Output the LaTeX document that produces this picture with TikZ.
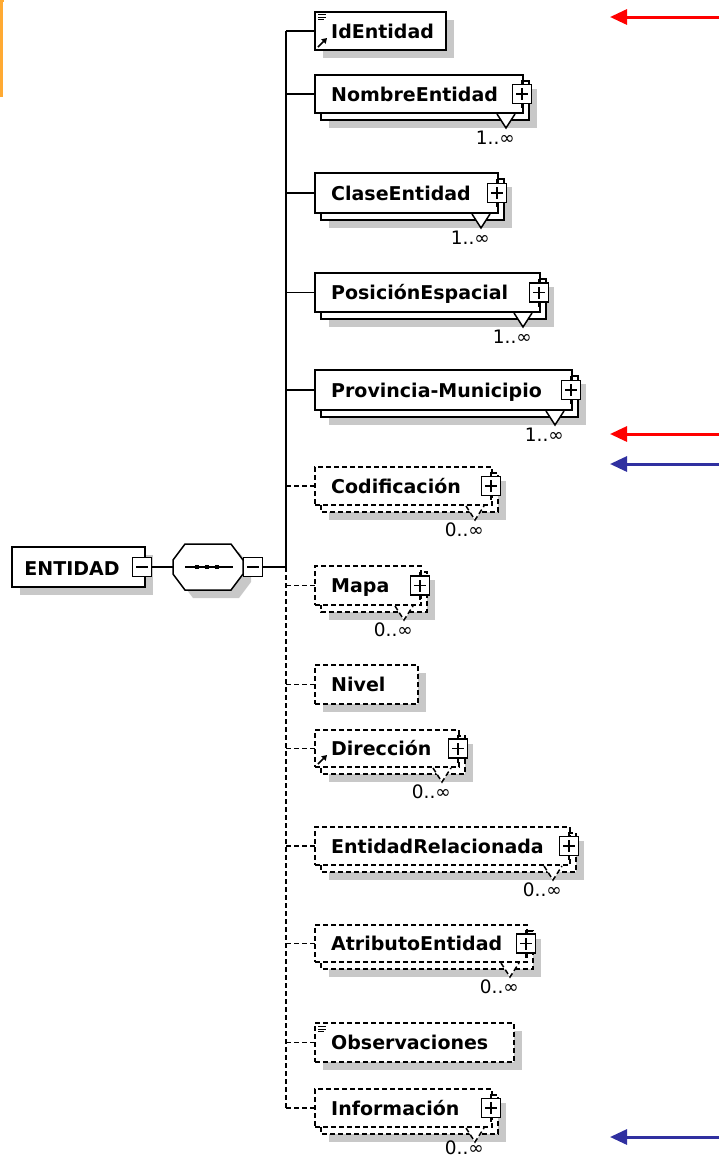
\documentclass[tikz,border=0pt]{standalone}
\usepackage{fontspec}
\setmainfont{DejaVu Sans}
\usetikzlibrary{arrows.meta}
\definecolor{shadowc}{RGB}{200,200,200}
\definecolor{arrred}{RGB}{255,0,0}
\definecolor{arrblue}{RGB}{48,48,160}
\definecolor{orangel}{RGB}{255,170,51}
\tikzset{
 elbox/.style={draw=black, fill=white, line width=1.5pt, inner sep=0pt, outer sep=0pt},
 elline/.style={line width=1.5pt},
 eltext/.style={anchor=base west, inner sep=0pt, font=\fontsize{19}{21}\selectfont\bfseries},
 multl/.style={anchor=base east, inner sep=0pt, font=\fontsize{18.5}{20}\selectfont},
 btn/.style={draw, fill=white, line width=1.5pt, minimum width=19pt, minimum height=19pt, inner sep=0pt},
 dashb/.style={dash pattern=on 5pt off 3pt},
 solidb/.style={solid},
 conn/.style={line width=1.5pt},
 redarrow/.style={draw=arrred, line width=3pt, -{Triangle[length=17pt,width=15pt]}},
 bluearrow/.style={draw=arrblue, line width=3pt, -{Triangle[length=17pt,width=15pt]}},
}
\def\multoff{31}
% single element box: #1 name, #2 x2, #3 y1, #4 y2, #5 text, #6 line style
\newcommand{\xsdsingle}[6]{%
  \fill[shadowc] (323,#3+8) rectangle (#2+8,#4+8);
  \node[elbox,#6,minimum width={#2-315},minimum height={#4-#3},anchor=north west] (#1) at (315,#3) {};
  \node[eltext] (#1-t) at (331,{(#3+#4)/2+7}) {#5};
}
% repeated element box: #1 name, #2 x2, #3 y1, #4 y2, #5 text, #6 line style, #7 multiplicity
\newcommand{\xsdmulti}[7]{%
  \fill[shadowc] (329,#3+14) rectangle (#2+14,#4+15);
  \draw[elbox,#6] (321,#3+6) rectangle (#2+6,#4+7);
  \fill[white] (#2-26,#4+1) -- (#2-17,#4+15) -- (#2-8,#4+1) -- cycle;
  \draw[elline,#6] (#2-26,#4+1) -- (#2-17,#4+15) -- (#2-8,#4+1);
  \node[elbox,#6,minimum width={#2-315},minimum height={#4-#3},anchor=north west] (#1) at (315,#3) {};
  \node[eltext] (#1-t) at (331,{(#3+#4)/2+7}) {#5};
  \draw[elline] ({#2-1},{(#3+#4)/2-14}) -- ({#2-1},{(#3+#4)/2+14});
  \node[btn] (#1-p) at ({#2-1},{(#3+#4)/2}) {};
  \draw[elline] ([xshift=-6pt]#1-p.center) -- ([xshift=6pt]#1-p.center)
                ([yshift=-6pt]#1-p.center) -- ([yshift=6pt]#1-p.center);
  \node[multl] (#1-m) at (#2-8,#4+\multoff) {#7};
}
\begin{document}
\begin{tikzpicture}[x=1pt,y=-1pt]
\useasboundingbox (0,0) rectangle (719,1160);
% orange mark at left edge
\fill[orangel] (0,0) rectangle (2.5,97);
\fill[orangel] (0,0) rectangle (4,1.5);

% ENTIDAD root
\fill[shadowc] (20,555) rectangle (153,595);
\node[elbox,minimum width=133pt,minimum height=40pt,anchor=north west] (ent) at (12,547) {};
\node[eltext,anchor=base] (ent-t) at (72,575) {ENTIDAD};
\node[btn] (ent-m) at (142,567) {};
\draw[elline] ([xshift=-6pt]ent-m.center) -- ([xshift=6pt]ent-m.center);

% sequence compositor
\fill[shadowc,shift={(8,8)}] (185,544) -- (231,544) -- (243,560) -- (243,574) -- (231,590) -- (185,590) -- (173,574) -- (173,560) -- cycle;
\draw[elbox] (185,544) -- (231,544) -- (243,560) -- (243,574) -- (231,590) -- (185,590) -- (173,574) -- (173,560) -- cycle;
\coordinate (seqW) at (173,567);
\coordinate (seq) at (208,567);
\draw[elline] (185,567) -- (233,567);
\fill (195,565) rectangle (199,569);
\fill (205,565) rectangle (209,569);
\fill (215,565) rectangle (219,569);
\node[btn] (seq-m) at (253,567) {};
\draw[elline] ([xshift=-6pt]seq-m.center) -- ([xshift=6pt]seq-m.center);
\draw[conn] (ent-m.east) -- (seqW);

% trunk
\coordinate (trTop) at (286,31);
\coordinate (trMid) at (286,567);
\coordinate (trBot) at (286,1108);
\draw[conn] (seq-m.east) -- (trMid);
\draw[conn] (trTop) -- (trMid);
\draw[conn,dashb] (trMid) -- (trBot);

% children
\xsdsingle{idE}{446}{12}{50}{IdEntidad}{solidb}
\draw[line width=1pt] (318,14.5) -- (326,14.5) (318,17.2) -- (326,17.2) (318,19.9) -- (324,19.9);
\draw[line width=1.5pt,-{Triangle[length=5pt,width=6pt]}] (318,47) -- (327,38);

\xsdmulti{nom}{523}{75}{113}{NombreEntidad}{solidb}{1..∞}
\xsdmulti{cla}{498}{173}{213}{ClaseEntidad}{solidb}{1..∞}
\xsdmulti{pos}{540}{273}{312}{PosiciónEspacial}{solidb}{1..∞}
\xsdmulti{pro}{572}{370}{410}{Provincia-Municipio}{solidb}{1..∞}
\xsdmulti{cod}{492}{467}{505}{Codificación}{dashb}{0..∞}
\xsdmulti{map}{421}{566}{605}{Mapa}{dashb}{0..∞}
\xsdsingle{niv}{418}{665}{704}{Nivel}{dashb}
\xsdmulti{dir}{459}{730}{767}{Dirección}{dashb}{0..∞}
\draw[line width=1.5pt,-{Triangle[length=5pt,width=6pt]}] (318,764) -- (327,755);
\xsdmulti{ert}{570}{827}{865}{EntidadRelacionada}{dashb}{0..∞}
\xsdmulti{atr}{527}{925}{962}{AtributoEntidad}{dashb}{0..∞}
\xsdsingle{obs}{514}{1023}{1062}{Observaciones}{dashb}
\draw[line width=1pt] (318,1026.5) -- (326,1026.5) (318,1029.2) -- (326,1029.2) (318,1031.9) -- (324,1031.9);
\def\multoff{27}
\xsdmulti{inf}{492}{1089}{1127}{Información}{dashb}{0..∞}

% connectors from trunk
\foreach \n/\yy in {idE/31, nom/94, cla/193, pos/292.5, pro/390}{
  \coordinate (j-\n) at (286,\yy);
  \draw[conn] (j-\n) -- (\n.west);
}
\foreach \n/\yy in {cod/486, map/585.5, niv/684.5, dir/748.5, ert/846, atr/943.5, obs/1042.5, inf/1108}{
  \coordinate (j-\n) at (286,\yy);
  \draw[conn,dashb] (j-\n) -- (\n.west);
}

% annotation arrows
\coordinate (ra1s) at (719,17);   \coordinate (ra1e) at (610,17);
\coordinate (ra2s) at (719,434);  \coordinate (ra2e) at (610,434);
\coordinate (ba1s) at (719,464);  \coordinate (ba1e) at (610,464);
\coordinate (ba2s) at (719,1137); \coordinate (ba2e) at (610,1137);
\draw[redarrow] (ra1s) -- (ra1e);
\draw[redarrow] (ra2s) -- (ra2e);
\draw[bluearrow] (ba1s) -- (ba1e);
\draw[bluearrow] (ba2s) -- (ba2e);
\end{tikzpicture}
\end{document}
